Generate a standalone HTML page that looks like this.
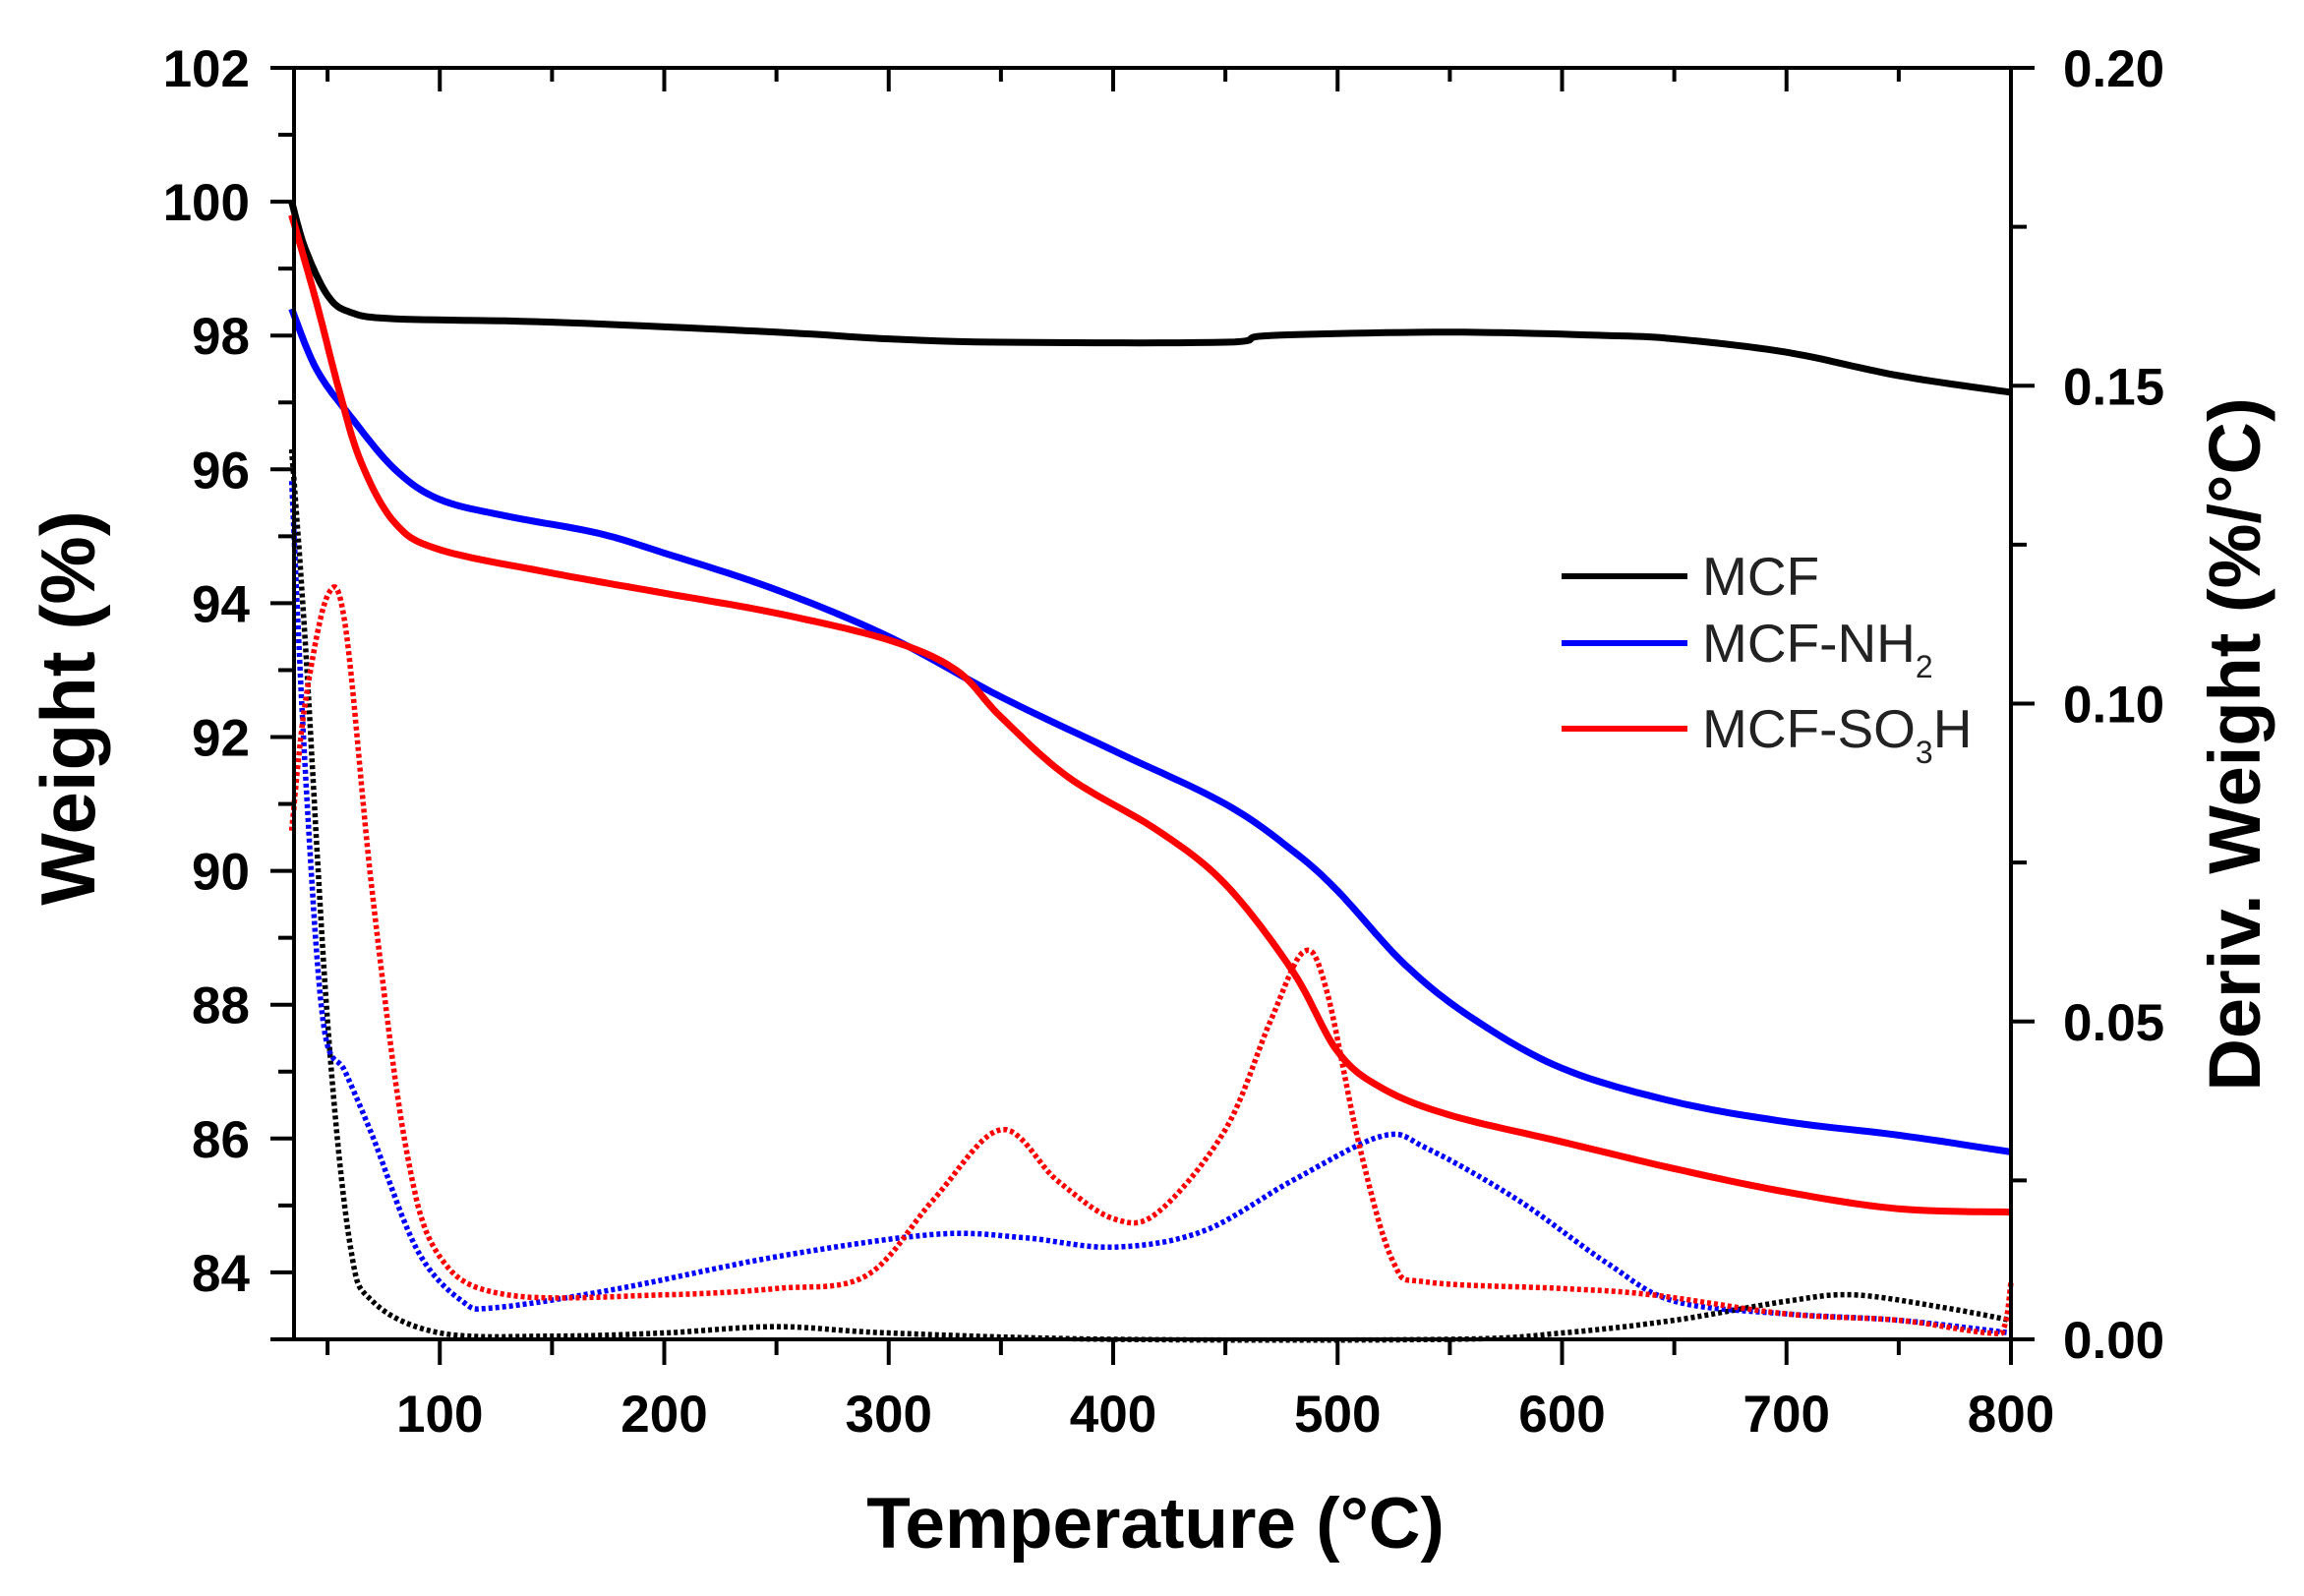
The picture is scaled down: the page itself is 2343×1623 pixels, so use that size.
<!DOCTYPE html>
<html><head><meta charset="utf-8"><style>
html,body{margin:0;padding:0;background:#fff}
svg{display:block}
text{font-family:"Liberation Sans",Arial,sans-serif}
</style></head><body>
<svg id="s" width="2343" height="1623" viewBox="0 0 2343 1623" xmlns="http://www.w3.org/2000/svg">
<g id="plot"></g>
<g fill="none" stroke="#000" stroke-width="4">
<rect x="299" y="69" width="1746" height="1293"/>
</g>
<g id="ticks" stroke="#000" stroke-width="4"></g>
<g id="labels" font-weight="bold" font-size="53" fill="#000"></g>
<text x="1175" y="1574" text-anchor="middle" font-weight="bold" font-size="73">Temperature (°C)</text>
<text transform="translate(96,720) rotate(-90)" text-anchor="middle" font-weight="bold" font-size="78">Weight (%)</text>
<text transform="translate(2298,757) rotate(-90)" text-anchor="middle" font-weight="bold" font-size="74">Deriv. Weight (%/°C)</text>
<g stroke-width="6">
<line x1="1588" y1="586" x2="1716" y2="586" stroke="#000"/>
<line x1="1588" y1="654" x2="1716" y2="654" stroke="#0000ff"/>
<line x1="1588" y1="741" x2="1716" y2="741" stroke="#ff0000"/>
</g>
<g font-size="55" fill="#222">
<text x="1731" y="605">MCF</text>
<text x="1731" y="673">MCF-NH<tspan font-size="32" dy="16">2</tspan></text>
<text x="1731" y="760">MCF-SO<tspan font-size="32" dy="16">3</tspan><tspan dy="-16">H</tspan></text>
</g>
</svg>
<script>
var X=function(t){return 2045-(800-t)*2.2825;};
var YL=function(w){return 69+(102-w)*68.05;};
var YR=function(d){return 1362-d*6465;};
function interp(pts,f){
  var out=[];
  for(var i=0;i<pts.length-1;i++){
    var p0=pts[Math.max(0,i-1)],p1=pts[i],p2=pts[i+1],p3=pts[Math.min(pts.length-1,i+2)];
    for(var k=0;k<12;k++){
      var t=k/12,t2=t*t,t3=t2*t;
      var x=0.5*((2*p1[0])+(-p0[0]+p2[0])*t+(2*p0[0]-5*p1[0]+4*p2[0]-p3[0])*t2+(-p0[0]+3*p1[0]-3*p2[0]+p3[0])*t3);
      var y=0.5*((2*p1[1])+(-p0[1]+p2[1])*t+(2*p0[1]-5*p1[1]+4*p2[1]-p3[1])*t2+(-p0[1]+3*p1[1]-3*p2[1]+p3[1])*t3);
      out.push(X(x).toFixed(1)+","+f(y).toFixed(1));
    }
  }
  var l=pts[pts.length-1];out.push(X(l[0]).toFixed(1)+","+f(l[1]).toFixed(1));
  return "M"+out.join("L");
}
var NS="http://www.w3.org/2000/svg";
function add(parent,tag,attrs,txt){var e=document.createElementNS(NS,tag);for(var a in attrs)e.setAttribute(a,attrs[a]);if(txt!=null)e.textContent=txt;parent.appendChild(e);return e;}
var plot=document.getElementById("plot");
var bk=[[34,100],[40,99.3],[50,98.6],[60,98.35],[80,98.25],[150,98.2],[250,98.05],[300,97.95],[350,97.9],[450,97.9],[470,98],[550,98.05],[620,98],[650,97.95],[700,97.75],[750,97.4],[800,97.15]];
var bl=[[34,98.4],[45,97.5],[60,96.8],[80,96],[100,95.55],[130,95.3],[170,95.05],[200,94.75],[250,94.2],[300,93.5],[350,92.6],[400,91.8],[450,91],[480,90.3],[500,89.7],[530,88.6],[560,87.8],[600,87.05],[650,86.55],[700,86.25],[750,86.05],[800,85.8]];
var rd=[[34,99.8],[45,98.5],[55,97.2],[65,96.1],[80,95.2],[100,94.8],[150,94.45],[200,94.15],[250,93.85],[300,93.45],[330,93],[350,92.3],[380,91.4],[420,90.6],[450,89.8],[480,88.5],[500,87.3],[520,86.75],[550,86.35],[600,85.95],[650,85.55],[700,85.2],[750,84.95],[800,84.9]];
var dbk=[[34,0.14],[40,0.11],[50,0.05],[60,0.015],[70,0.006],[100,0.001],[150,0.0005],[200,0.001],[250,0.002],[300,0.001],[400,0],[550,0],[600,0.001],[650,0.003],[700,0.006],[730,0.007],[770,0.005],[800,0.003]];
var dbl=[[34,0.135],[40,0.09],[48,0.05],[58,0.042],[70,0.032],[90,0.014],[110,0.006],[125,0.005],[180,0.008],[250,0.013],[320,0.0165],[360,0.016],[400,0.0145],[440,0.017],[480,0.025],[520,0.032],[540,0.030],[580,0.022],[620,0.012],[650,0.006],[700,0.004],[750,0.003],[800,0.001]];
var drd=[[34,0.08],[40,0.10],[50,0.117],[58,0.112],[70,0.07],[85,0.03],[100,0.013],[130,0.007],[200,0.007],[250,0.008],[290,0.01],[320,0.022],[350,0.033],[375,0.025],[400,0.019],[420,0.02],[450,0.033],[470,0.05],[485,0.061],[495,0.055],[510,0.03],[525,0.012],[540,0.009],[600,0.008],[640,0.007],[700,0.004],[750,0.003],[790,0.001],[797,0.002],[800,0.009]];
[[dbk,"#000"],[dbl,"#0000ff"],[drd,"#ff0000"]].forEach(function(s){add(plot,"path",{d:interp(s[0],YR),fill:"none",stroke:s[1],"stroke-width":5.5,"stroke-dasharray":"4 3"});});
[[bk,"#000"],[bl,"#0000ff"],[rd,"#ff0000"]].forEach(function(s){add(plot,"path",{d:interp(s[0],YL),fill:"none",stroke:s[1],"stroke-width":7});});
var tk=document.getElementById("ticks"),lb=document.getElementById("labels");
for(var w=83;w<=102;w++){var y=YL(w);var maj=(w%2==0);add(tk,"line",{x1:299,x2:maj?275:283,y1:y,y2:y});if(maj&&w>=84)add(lb,"text",{x:254,y:y+19,"text-anchor":"end"},String(w));}
for(var i=0;i<=8;i++){var d=i*0.025,y=YR(d),maj=(i%2==0);add(tk,"line",{x1:2045,x2:maj?2069:2061,y1:y,y2:y});if(maj)add(lb,"text",{x:2098,y:y+19},d.toFixed(2));}
for(var t=50;t<=800;t+=50){var x=X(t),maj=(t%100==0);add(tk,"line",{x1:x,x2:x,y1:1362,y2:maj?1388:1378});add(tk,"line",{x1:x,x2:x,y1:69,y2:maj?93:83});if(maj)add(lb,"text",{x:x,y:1456,"text-anchor":"middle"},String(t));}
add(tk,"line",{x1:275,x2:299,y1:1362,y2:1362});
</script>
</body></html>
